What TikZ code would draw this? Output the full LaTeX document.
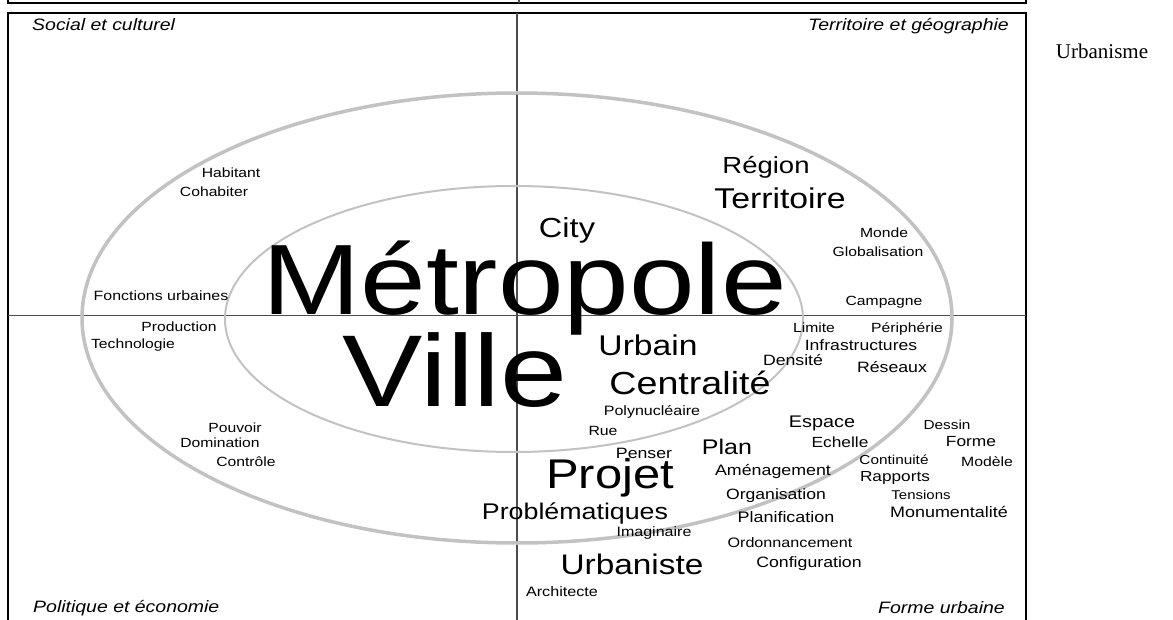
\documentclass[tikz,border=0pt]{standalone}
\usepackage{fontspec}
\setmainfont{Liberation Sans}[FakeStretch=1.18]
\newfontfamily\urbfont{Liberation Serif}
\newcommand{\fs}[1]{\fontsize{#1}{#1}\selectfont}
\tikzset{word/.style={inner sep=0pt,anchor=center},
         corner/.style={inner sep=0pt,font=\fs{16.5}\itshape},
         ring/.style={draw=black!24,line width=#1},
         axis/.style={draw=black!70,line width=1.1pt}}

\begin{document}
\begin{tikzpicture}[x=1pt,y=-1pt]

        \useasboundingbox (0,0) rectangle (1173,620);
        \clip (0,0) rectangle (1173,620);

        % frame and quadrants
        \coordinate (tl) at (8,12.7);
        \coordinate (br) at (1026,640);
        \draw[line width=1.8pt] (8,-10) rectangle (1026,3.3);
        \draw[axis] (519,-10) -- (519,3.3);
        \draw[line width=1.8pt] (tl) rectangle (br);
        \draw[axis] (517,12.7) -- (517,620);
        \draw[axis] (8,315.5) -- (1026,315.5);

        % rings
        \draw[ring=3.5pt] (517,318) ellipse [x radius=435, y radius=225];
        \draw[ring=2pt] (514,319) ellipse [x radius=289, y radius=133];

        % corners
        \node[corner,anchor=west] (social) at (32,25) {Social et culturel};
        \node[corner,anchor=east] (geo) at (1009,26) {Territoire et géographie};
        \node[corner,anchor=west] (politique) at (33,608) {Politique et économie};
        \node[corner,anchor=east] (formeurb) at (1005,608) {Forme urbaine};
        \node[word,font=\urbfont\fs{21}] (urbanisme) at (1102,51) {Urbanisme};

        % centre
        \node[word,anchor=base,font=\fs{100}] (metropole) at (524.5,315) {Métropole};
        \node[word,anchor=base,font=\fs{102}] (ville) at (455,406) {Ville};

        % social et culturel / politique
        \node[word,font=\fs{13.3}] (habitant) at (231,173) {Habitant};
        \node[word,font=\fs{13.3}] (cohabiter) at (214,192) {Cohabiter};
        \node[word,font=\fs{13.5}] (fonctions) at (161,296) {Fonctions urbaines};
        \node[word,font=\fs{13.3}] (production) at (179,327) {Production};
        \node[word,font=\fs{13.3}] (technologie) at (133,345) {Technologie};
        \node[word,font=\fs{13.3}] (pouvoir) at (235,428) {Pouvoir};
        \node[word,font=\fs{13.3}] (domination) at (220,443) {Domination};
        \node[word,font=\fs{13.3}] (controle) at (246,462) {Contrôle};

        % territoire
        \node[word,font=\fs{27.6}] (city) at (567,230) {City};
        \node[word,font=\fs{23.3}] (region) at (766,167) {Région};
        \node[word,font=\fs{28.6}] (territoire) at (780,198) {Territoire};
        \node[word,font=\fs{13.3}] (monde) at (884,233) {Monde};
        \node[word,font=\fs{13.3}] (globalisation) at (878,252) {Globalisation};
        \node[word,font=\fs{13.3}] (campagne) at (884,302) {Campagne};
        \node[word,font=\fs{13.3}] (limite) at (814,328) {Limite};
        \node[word,font=\fs{13.3}] (peripherie) at (907,329) {Périphérie};
        \node[word,font=\fs{14.9}] (infra) at (861,345) {Infrastructures};
        \node[word,font=\fs{15}] (densite) at (793,360) {Densité};
        \node[word,font=\fs{15}] (reseaux) at (892,367) {Réseaux};
        \node[word,font=\fs{28.5}] (urbain) at (648,345) {Urbain};
        \node[word,font=\fs{31.9}] (centralite) at (690,383) {Centralité};
        \node[word,font=\fs{13.6}] (polynucleaire) at (652,412) {Polynucléaire};
        \node[word,font=\fs{13.4}] (rue) at (603,431) {Rue};

        % forme urbaine
        \node[word,font=\fs{16.8}] (espace) at (822,423) {Espace};
        \node[word,font=\fs{13}] (dessin) at (947,425) {Dessin};
        \node[word,font=\fs{14.7}] (echelle) at (840,442) {Echelle};
        \node[word,font=\fs{14.7}] (forme) at (971,442) {Forme};
        \node[word,font=\fs{21.2}] (plan) at (727,447) {Plan};
        \node[word,font=\fs{15}] (penser) at (644,453) {Penser};
        \node[word,font=\fs{13}] (continuite) at (894,460) {Continuité};
        \node[word,font=\fs{13.4}] (modele) at (987,462) {Modèle};
        \node[word,font=\fs{41.5}] (projet) at (610,478) {Projet};
        \node[word,font=\fs{15.1}] (amenagement) at (773,472) {Aménagement};
        \node[word,font=\fs{14.6}] (rapports) at (895,478) {Rapports};
        \node[word,font=\fs{14.9}] (organisation) at (776,496) {Organisation};
        \node[word,font=\fs{12.7}] (tensions) at (921,495) {Tensions};
        \node[word,font=\fs{15.2}] (monumentalite) at (949,512) {Monumentalité};
        \node[word,font=\fs{22.7}] (problematiques) at (575,513) {Problématiques};
        \node[word,font=\fs{15.2}] (planification) at (786,517) {Planification};
        \node[word,font=\fs{13.6}] (imaginaire) at (654,533) {Imaginaire};
        \node[word,font=\fs{13.7}] (ordonnancement) at (790,543) {Ordonnancement};
        \node[word,font=\fs{28.3}] (urbaniste) at (632,564) {Urbaniste};
        \node[word,font=\fs{15}] (configuration) at (809,564) {Configuration};
        \node[word,font=\fs{13.7}] (architecte) at (562,592) {Architecte};

\end{tikzpicture}
\end{document}
